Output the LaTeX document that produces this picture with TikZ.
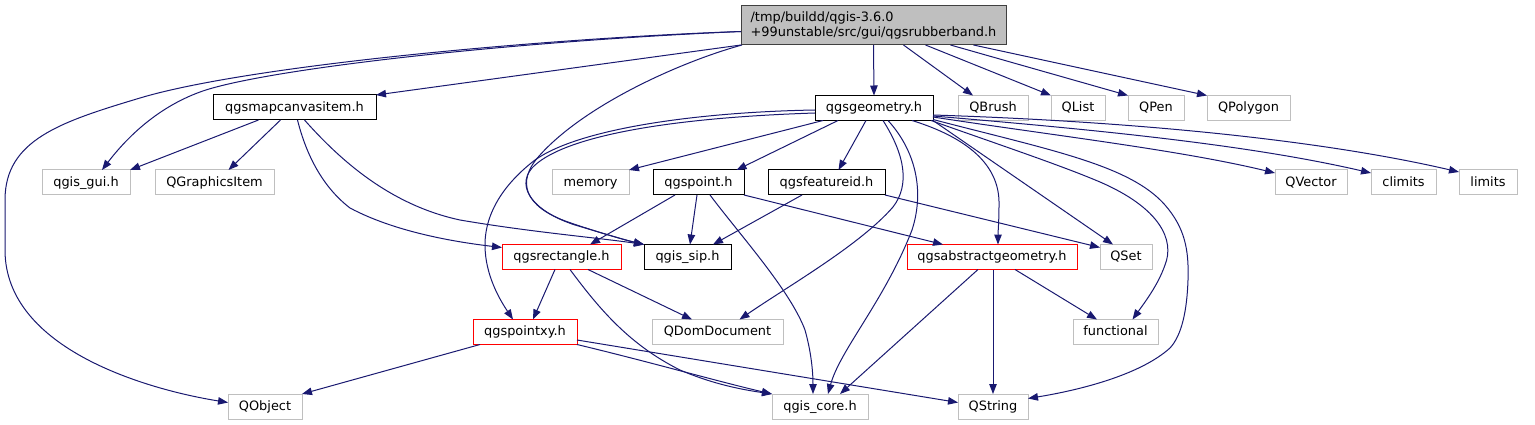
\documentclass[tikz,border=0pt]{standalone}
\usepackage{fontspec}
\setmainfont{DejaVu Sans}
\usetikzlibrary{arrows.meta,calc}
\definecolor{edgecol}{HTML}{191970}
\definecolor{graybd}{HTML}{BFBFBF}
\definecolor{redbd}{HTML}{FF0000}
\definecolor{rootfill}{HTML}{BFBFBF}
\definecolor{rootbd}{HTML}{404040}
\tikzset{
  boxbase/.style={draw, line width=1pt, inner sep=0pt, outer sep=0pt,
    minimum height=25pt, text height=10pt, text depth=2.6pt,
    font=\fontsize{12.9}{15}\selectfont},
  gbox/.style={boxbase, draw=graybd},
  bbox/.style={boxbase, draw=black},
  rbox/.style={boxbase, draw=redbd},
  rootbox/.style={draw=rootbd, fill=rootfill, line width=1pt, inner sep=0pt,
    outer sep=0pt, minimum height=39pt, align=left,
    font=\fontsize{12.9}{15}\selectfont},
  dep/.style={draw=edgecol, line width=1pt, -{Triangle[length=10pt,width=7.5pt]}, fill=none}
}
\begin{document}
\begin{tikzpicture}[x=1pt,y=-1pt]
\useasboundingbox (0,0) rectangle (1535,425);
% nodes
\node[rootbox, minimum width=265pt] (root) at (873.5,25.5) {/tmp/buildd/qgis-3.6.0\\+99unstable/src/gui/qgsrubberband.h};
\node[bbox, minimum width=163pt] (mci) at (294.5,107.5) {qgsmapcanvasitem.h};
\node[bbox, minimum width=118pt] (geom) at (874,108) {qgsgeometry.h};
\node[gbox, minimum width=70pt] (brush) at (993,108) {QBrush};
\node[gbox, minimum width=54pt] (list) at (1078,108) {QList};
\node[gbox, minimum width=56pt] (pen) at (1156,108) {QPen};
\node[gbox, minimum width=83pt] (poly) at (1248.5,108) {QPolygon};
\node[gbox, minimum width=88pt] (gui) at (86,182.5) {qgis\_gui.h};
\node[gbox, minimum width=119pt] (gfx) at (214.5,182.5) {QGraphicsItem};
\node[gbox, minimum width=77pt] (memory) at (590.5,182.5) {memory};
\node[bbox, minimum width=91pt] (point) at (698.5,182.5) {qgspoint.h};
\node[bbox, minimum width=117pt] (fid) at (826.5,182.5) {qgsfeatureid.h};
\node[gbox, minimum width=72pt] (vector) at (1311,182.5) {QVector};
\node[gbox, minimum width=65pt] (climits) at (1403.5,182.5) {climits};
\node[gbox, minimum width=58pt] (limits) at (1488,182.5) {limits};
\node[rbox, minimum width=119pt] (rect) at (561.5,257) {qgsrectangle.h};
\node[bbox, minimum width=87pt] (sip) at (687.5,257) {qgis\_sip.h};
\node[rbox, minimum width=170pt] (abs) at (992,257) {qgsabstractgeometry.h};
\node[gbox, minimum width=52pt] (qset) at (1126,257) {QSet};
\node[rbox, minimum width=104pt] (pxy) at (525,332) {qgspointxy.h};
\node[gbox, minimum width=131pt] (dom) at (717.5,332) {QDomDocument};
\node[gbox, minimum width=85pt] (func) at (1115.5,332) {functional};
\node[gbox, minimum width=74pt] (qobj) at (265,406.5) {QObject};
\node[gbox, minimum width=96pt] (core) at (820,406.5) {qgis\_core.h};
\node[gbox, minimum width=70pt] (qstr) at (993,406.5) {QString};
% edges from root
\draw[dep] (root.south west) -- (mci.north east);
\draw[dep] ($(root.west)+(0,6)$) .. controls (500,42) and (260,70) .. (200,92) .. controls (155,108.5) and (125,140) .. ($(gui.north)+(16,0)$);
\draw[dep] ($(root.west)+(0,6)$) .. controls (550,38) and (250,65) .. (140,98) .. controls (60,122) and (5,140) .. (5,200) -- (5,250) .. controls (5,350) and (150,390) .. ($(qobj.west)+(0,-4)$);
\draw[dep] ($(root.south west)+(1,0)$) .. controls (680,62) and (585,105) .. (540,155) .. controls (515,182) and (525,207) .. (568,222) .. controls (600,233) and (625,240) .. (sip.north west);
\draw[dep] (root.south) -- (geom.north);
\draw[dep] ($(root.south)+(30,0)$) -- ($(brush.north)+(-20,0)$);
\draw[dep] ($(root.south)+(52,0)$) -- (list.north west);
\draw[dep] ($(root.south)+(77,0)$) -- (pen.north west);
\draw[dep] ($(root.south)+(100,0)$) -- (poly.north west);
% edges from qgsmapcanvasitem
\draw[dep] ($(mci.south)+(-36,0)$) -- (gui.north east);
\draw[dep] ($(mci.south)+(-14,0)$) -- ($(gfx.north)+(14,0)$);
\draw[dep] ($(mci.south)+(3,0)$) .. controls (305,150) and (320,185) .. (350,208) .. controls (395,232) and (455,242) .. ($(rect.north west)+(0,3)$);
\draw[dep] ($(mci.south)+(10,0)$) .. controls (340,160) and (390,205) .. (460,220) .. controls (530,232) and (600,238) .. (sip.north west);
% edges from qgsgeometry
\draw[dep] ($(geom.south)+(-51,0)$) -- (memory.north east);
\draw[dep] ($(geom.south)+(-36,0)$) -- ($(point.north)+(38,0)$);
\draw[dep] ($(geom.south)+(-8,0)$) -- ($(fid.north)+(12,0)$);
\draw[dep] ($(geom.west)+(0,2)$) .. controls (700,112) and (580,128) .. (535,160) .. controls (505,183) and (485,212) .. (485,245) .. controls (485,275) and (500,300) .. ($(pxy.north)+(-12,0)$);
\draw[dep] ($(geom.west)+(0,5)$) .. controls (660,118) and (560,138) .. (532,168) .. controls (515,188) and (535,212) .. (575,225) .. controls (602,233) and (625,240) .. (sip.north west);
\draw[dep] ($(geom.south)+(9,0)$) .. controls (905,155) and (910,185) .. (893,207) .. controls (860,245) and (790,285) .. ($(dom.north)+(22,0)$);
\draw[dep] ($(geom.south)+(14,0)$) .. controls (915,150) and (925,190) .. (912,230) .. controls (885,300) and (840,350) .. ($(core.north)+(8,0)$);
\draw[dep] ($(geom.south)+(38,0)$) .. controls (975,140) and (1000,170) .. (999,205) .. controls (999,222) and (998,232) .. ($(abs.north)+(6,0)$);
\draw[dep] (geom.south east) -- ($(qset.north)+(-13,0)$);
\draw[dep] ($(geom.south east)+(-2,0)$) .. controls (1000,145) and (1060,165) .. (1100,182) .. controls (1160,208) and (1175,240) .. (1165,265) .. controls (1158,285) and (1145,302) .. ($(func.north)+(17,0)$);
\draw[dep] ($(geom.south east)+(0,-1)$) .. controls (1050,150) and (1130,165) .. (1165,205) .. controls (1185,228) and (1189,250) .. (1188,280) .. controls (1187,310) and (1182,335) .. (1170,348) .. controls (1140,375) and (1080,390) .. ($(qstr.east)+(0,-8)$);
\draw[dep] ($(geom.east)+(0,9)$) .. controls (1050,135) and (1180,150) .. ($(vector.north west)+(0,3)$);
\draw[dep] ($(geom.east)+(0,8)$) .. controls (1100,130) and (1250,145) .. ($(climits.north west)+(0,3)$);
\draw[dep] ($(geom.east)+(0,7)$) .. controls (1150,122) and (1330,142) .. ($(limits.north west)+(0,2)$);
% edges from qgspoint
\draw[dep] ($(point.south)+(-23.5,0)$) -- ($(rect.north)+(28.5,0)$);
\draw[dep] ($(point.south)+(-1.5,0)$) -- ($(sip.north)+(2.5,0)$);
\draw[dep] ($(point.south)+(11.5,0)$) .. controls (740,235) and (790,290) .. (805,330) .. controls (812,355) and (813,375) .. ($(core.north)+(-7,0)$);
\draw[dep] (point.south east) -- ($(abs.north)+(-49,0)$);
% edges from qgsfeatureid
\draw[dep] ($(fid.south)+(-24.5,0)$) -- ($(sip.north)+(25.5,0)$);
\draw[dep] (fid.south east) -- ($(qset.north west)+(0,3)$);
% edges from qgsrectangle
\draw[dep] ($(rect.south)+(-6.5,0)$) -- ($(pxy.north)+(8,0)$);
\draw[dep] ($(rect.south)+(26.5,0)$) -- ($(dom.north)+(-25.5,0)$);
\draw[dep] ($(rect.south)+(8.5,0)$) .. controls (600,310) and (630,345) .. (680,370) .. controls (715,385) and (745,390) .. (core.north west);
% edges from qgspointxy
\draw[dep] ($(pxy.south west)+(7,0)$) -- (qobj.north east);
\draw[dep] (pxy.south east) .. controls (650,362) and (720,382) .. (core.north west);
\draw[dep] ($(pxy.east)+(0,8)$) -- ($(qstr.west)+(0,-4)$);
% edges from qgsabstractgeometry
\draw[dep] ($(abs.south)+(-14,0)$) -- ($(core.north)+(20,0)$);
\draw[dep] ($(abs.south)+(1,0)$) -- (qstr.north);
\draw[dep] ($(abs.south)+(23,0)$) -- ($(func.north)+(-18.5,0)$);
\end{tikzpicture}
\end{document}
